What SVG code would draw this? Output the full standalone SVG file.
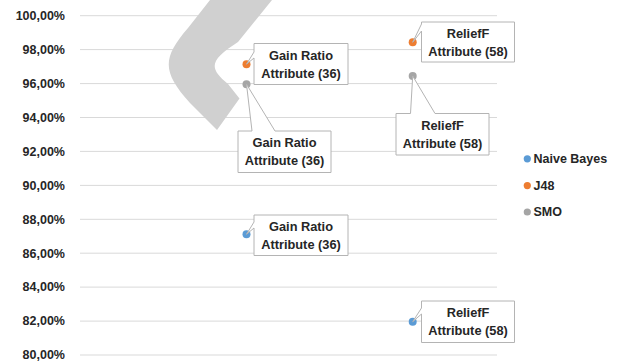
<svg xmlns="http://www.w3.org/2000/svg" width="619" height="361" viewBox="0 0 619 361">
<style>
.t{font-family:"Liberation Sans",Arial,sans-serif;font-weight:bold;fill:#262626}
.ax{font-size:12.5px;text-anchor:end}
.lb{font-size:12.8px;text-anchor:middle}
.lg{font-size:12.5px}
.grid line{stroke:#d9d9d9;stroke-width:1}
.co{fill:#ffffff;stroke:#b4b4b4;stroke-width:1}
.nb{fill:#5b9bd5}.j48{fill:#ed7d31}.smo{fill:#a5a5a5}
</style>
<rect width="619" height="361" fill="#ffffff"/>
<g id="gridlines" class="grid">
<line x1="80" y1="15.7" x2="497" y2="15.7"/>
<line x1="80" y1="49.6" x2="497" y2="49.6"/>
<line x1="80" y1="83.6" x2="497" y2="83.6"/>
<line x1="80" y1="117.5" x2="497" y2="117.5"/>
<line x1="80" y1="151.4" x2="497" y2="151.4"/>
<line x1="80" y1="185.4" x2="497" y2="185.4"/>
<line x1="80" y1="219.3" x2="497" y2="219.3"/>
<line x1="80" y1="253.2" x2="497" y2="253.2"/>
<line x1="80" y1="287.1" x2="497" y2="287.1"/>
<line x1="80" y1="321.1" x2="497" y2="321.1"/>
<line x1="80" y1="355" x2="497" y2="355"/>
</g>
<g id="y-axis" class="t ax">
<text x="65" y="20">100,00%</text>
<text x="65" y="53.9">98,00%</text>
<text x="65" y="87.9">96,00%</text>
<text x="65" y="121.8">94,00%</text>
<text x="65" y="155.7">92,00%</text>
<text x="65" y="189.7">90,00%</text>
<text x="65" y="223.6">88,00%</text>
<text x="65" y="257.5">86,00%</text>
<text x="65" y="291.4">84,00%</text>
<text x="65" y="325.4">82,00%</text>
<text x="65" y="359.3">80,00%</text>
</g>
<g id="band">
<path d="M210,0 L272,0 L238,42 C210,60 208,68 228,84 L239.5,98.5 L217,130 L190,103 C162,72 162,58 188,28 Z" fill="#d0d0d0"/>
</g>
<g id="points">
<circle class="j48" cx="246.5" cy="64.2" r="4"/>
<circle class="smo" cx="246.5" cy="84.2" r="4"/>
<circle class="nb" cx="246.5" cy="234.3" r="4"/>
<circle class="j48" cx="412.7" cy="42.3" r="4"/>
<circle class="smo" cx="412.7" cy="76" r="4"/>
<circle class="nb" cx="412.7" cy="321.7" r="4"/>
</g>
<g id="connectors">
<path class="co" d="M254,43.5 H348 V84.5 H254 V58 L246.5,64.2 L254,52 Z"/>
<path class="co" d="M238,131 H252 L246.5,84.2 L275,131 H331 V172.5 H238 Z"/>
<path class="co" d="M254,215 H348 V255.5 H254 V228 L246.5,234.3 L254,222 Z"/>
<path class="co" d="M421.5,22 H514.5 V62 H421.5 V31 L412.7,42.3 L421.5,24 Z"/>
<path class="co" d="M396,113.5 H410.5 L412.7,76 L435,113.5 H489 V155 H396 Z"/>
<path class="co" d="M421.5,301 H514.5 V342.5 H421.5 V314 L412.7,321.7 L421.5,308 Z"/>
</g>
<g id="label-gr-j48" class="t lb">
<text x="301" y="59.8">Gain Ratio</text>
<text x="301" y="77.8">Attribute (36)</text>
</g>
<g id="label-gr-smo" class="t lb">
<text x="284.5" y="147.3">Gain Ratio</text>
<text x="284.5" y="165.3">Attribute (36)</text>
</g>
<g id="label-gr-nb" class="t lb">
<text x="301" y="231.3">Gain Ratio</text>
<text x="301" y="249.3">Attribute (36)</text>
</g>
<g id="label-rf-j48" class="t lb">
<text x="468" y="37.8">ReliefF</text>
<text x="468" y="55.8">Attribute (58)</text>
</g>
<g id="label-rf-smo" class="t lb">
<text x="442.5" y="129.5">ReliefF</text>
<text x="442.5" y="147.5">Attribute (58)</text>
</g>
<g id="label-rf-nb" class="t lb">
<text x="468" y="316.8">ReliefF</text>
<text x="468" y="334.8">Attribute (58)</text>
</g>
<g id="legend">
<circle class="nb" cx="527.3" cy="158.8" r="3.6"/>
<text class="t lg" x="533.5" y="162.8">Naive Bayes</text>
<circle class="j48" cx="527.3" cy="185.6" r="3.6"/>
<text class="t lg" x="533.5" y="189.6">J48</text>
<circle class="smo" cx="527.3" cy="212" r="3.6"/>
<text class="t lg" x="533.5" y="216">SMO</text>
</g>
</svg>
